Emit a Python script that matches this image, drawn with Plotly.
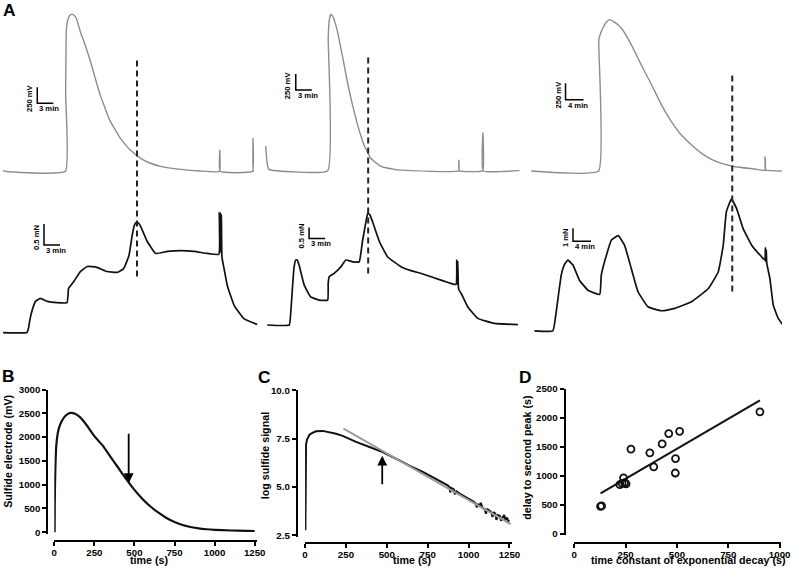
import numpy as np
import plotly.graph_objects as go

W, H = 791, 576
FONT = "Liberation Sans, Arial, sans-serif"
GRAY = "#8c8c8c"
BLACK = "#111111"

# ---------------- Panel A data (time in min; sulfide in mV; force in mN) ----------------
a1_top_t = [0, 0.4, 12.2, 12.25, 12.4, 12.75, 13.1, 13.5, 13.9, 14.25, 15.0, 16.0, 16.9, 17.8, 18.75,
            19.7, 20.6, 21.6, 22.5, 23.5, 24.4, 26.3, 28.0, 30.0, 33.8, 37.5, 41.05, 41.1, 41.15,
            47.2, 47.3, 47.35, 47.5]
a1_top_v = [110, 15, 0, 1200, 2230, 2390, 2440, 2450, 2430, 2390, 2180, 1950, 1716, 1450, 1186,
            970, 780, 640, 515, 410, 328, 203, 130, 78, 31, 5, 0, 330, 0,
            0, 515, 0, 0]

a1_bot_t = [0.3, 5.0, 5.3, 5.6, 6.1, 6.6, 7.5, 8.8, 10.6, 12.5, 12.7, 12.8, 13.75, 15.0, 16.3, 18.1,
            20.0, 21.9, 23.1, 24.1, 24.7, 25.1, 25.5, 25.9, 26.3, 27.5, 29.1, 31.3, 33.8, 36.3, 38.8,
            40.9, 41.0, 41.1, 41.2, 41.3, 41.4, 41.5, 42.0, 42.5, 43.8, 45.6, 48.1]
a1_bot_f = [0, 0, 0.1, 0.33, 0.58, 0.74, 0.81, 0.74, 0.71, 0.71, 0.9, 1.05, 1.21, 1.45, 1.57, 1.55,
            1.45, 1.43, 1.52, 1.83, 2.31, 2.55, 2.62, 2.6, 2.52, 2.17, 1.88, 1.93, 1.95, 1.93, 1.88,
            1.86, 2.85, 1.9, 2.85, 1.9, 2.8, 1.8, 1.45, 1.12, 0.64, 0.33, 0.19]

a2_top_t = [0, 0.3, 0.6, 11.6, 11.7, 11.9, 12.2, 12.5, 12.8, 13.45, 14.1, 14.7, 15.3, 15.95, 16.6,
            17.2, 18.4, 19.7, 21.6, 24.1, 27.2, 36.1, 36.15, 36.2, 40.6, 40.65, 40.7, 47.5]
a2_top_v = [380, 100, 20, 0, 2070, 2350, 2440, 2420, 2360, 2170, 1900, 1645, 1380, 1130, 910,
            715, 400, 190, 65, 20, 0, 0, 165, 0, 0, 590, 0, 0]

a2_bot_t = [0.3, 4.4, 4.7, 5.0, 5.3, 5.6, 5.9, 6.25, 7.2, 8.4, 10.0, 11.6, 11.7, 11.9, 12.8, 14.1,
            15.0, 16.3, 17.5, 18.1, 18.7, 19.1, 19.5, 20.0, 21.3, 22.8, 25.3, 27.2, 29.1, 32.8, 35.6,
            35.75, 35.85, 35.95, 36.05, 36.15, 36.6, 37.8, 39.7, 42.8, 47.2]
a2_bot_f = [0, 0, 0.6, 1.66, 2.6, 2.95, 2.95, 2.72, 1.82, 1.28, 1.13, 1.13, 1.9, 2.19, 2.34, 2.65,
            2.95, 2.87, 2.87, 3.78, 4.6, 5.07, 5.0, 4.69, 3.78, 3.10, 2.65, 2.47, 2.34, 2.04, 1.84,
            2.95, 1.85, 2.9, 1.8, 1.6, 1.43, 0.83, 0.30, 0.07, 0.02]

a3_top_t = [0, 14.95, 15.0, 15.5, 15.9, 16.7, 17.4, 18.4, 20.0, 22.2, 24.4, 26.7, 28.9, 31.1, 33.3,
            35.6, 37.8, 40.0, 42.2, 45.2, 49.6, 51.8, 51.85, 51.9, 51.95, 52.0, 52.2, 55.6]
a3_top_v = [0, 0, 1965, 2080, 2140, 2230, 2265, 2230, 2140, 1890, 1590, 1290, 990, 740, 540,
            390, 265, 175, 115, 65, 30, 10, 215, 20, 190, 15, 10, 0]

a3_bot_t = [0.73, 4.8, 5.55, 6.67, 7.4, 8.15, 9.27, 10.7, 12.6, 15.2, 15.55, 16.7, 17.8, 19.3, 20.7,
            22.2, 23.7, 25.9, 28.9, 31.85, 35.55, 39.3, 41.5, 42.6, 43.3, 44.4, 45.55, 47.0, 48.9,
            51.1, 51.85, 51.95, 52.05, 52.15, 52.25, 52.95, 53.7, 54.8, 56.3]
a3_bot_f = [0, 0, 1.46, 4.28, 5.1, 5.43, 5.05, 3.89, 3.12, 2.79, 4.28, 5.82, 6.97, 7.31, 6.58,
            4.79, 3.0, 1.85, 1.54, 1.72, 2.23, 3.25, 4.54, 6.58, 9.15, 10.12, 9.41, 7.87, 6.58,
            5.69, 5.43, 6.4, 5.3, 6.2, 5.2, 4.02, 1.97, 0.95, 0.23]

# ---------------- Panel B data ----------------
b_time = [2, 3, 5, 8, 12, 20, 30, 45, 70, 100, 130, 160, 200, 250, 300, 350, 400, 450, 500, 550,
          600, 650, 700, 750, 800, 850, 900, 950, 1000, 1100, 1200, 1250]
b_mv = [0, 600, 1100, 1500, 1800, 2050, 2200, 2330, 2450, 2510, 2490, 2420, 2260, 2020, 1830, 1590,
        1350, 1110, 890, 700, 540, 410, 300, 215, 150, 110, 80, 62, 50, 35, 28, 25]
b_ticks_x = [0, 250, 500, 750, 1000, 1250]
b_ticks_y = [0, 500, 1000, 1500, 2000, 2500, 3000]

# ---------------- Panel C data ----------------
c_time = [2, 3, 4, 6, 12, 27, 45, 67, 108, 149, 190, 230, 312, 394, 475, 557, 638, 720, 802, 850,
          870, 883, 888, 895, 910, 916, 925, 945, 965, 985, 1000, 1015, 1030, 1045, 1050, 1060,
          1070, 1075, 1085, 1100, 1106, 1115, 1128, 1140, 1146, 1155, 1165, 1170, 1180, 1192,
          1198, 1210, 1218, 1225, 1235, 1242, 1250]
c_log = [2.76, 5.0, 6.9, 7.2, 7.45, 7.7, 7.8, 7.88, 7.9, 7.84, 7.75, 7.64, 7.33, 7.07, 6.8, 6.46,
         6.1, 5.78, 5.43, 5.2, 5.1, 5.0, 4.72, 4.95, 4.88, 4.62, 4.78, 4.66, 4.57, 4.48, 4.4, 4.32,
         4.25, 4.14, 3.95, 4.1, 4.05, 4.18, 3.92, 3.85, 3.62, 3.85, 3.79, 3.68, 3.45, 3.7, 3.6,
         3.3, 3.55, 3.5, 3.25, 3.45, 3.55, 3.3, 3.42, 3.22, 3.28]
c_fit_time = [235, 1258]
c_fit_log = [8.02, 3.08]
c_ticks_x = [0, 250, 500, 750, 1000, 1250]
c_ticks_y = [2.5, 5.0, 7.5, 10.0]
c_ticktext_y = ["2.5", "5.0", "7.5", "10.0"]

# ---------------- Panel D data ----------------
d_tau = [128, 133, 222, 233, 240, 245, 252, 276, 368, 387, 428, 460, 493, 492, 513, 904]
d_delay = [475, 482, 850, 870, 965, 880, 860, 1460, 1395, 1155, 1548, 1726, 1296, 1048, 1765, 2100]
d_ticks_x = [0, 250, 500, 750, 1000]
d_ticks_y = [0, 500, 1000, 1500, 2000, 2500]

# ---------------- layout helpers: target pixel -> paper (with viewer offset/scale compensation) ----------------
SX, OX, SY, OY = 0.983, 2.8, 0.98, 7.8
FS = 1 / 0.98


def PX(p):
    return (p - OX) / SX


def PY(p):
    return (p - OY) / SY


def xd(p):
    return min(max(PX(p) / W, 0.0), 1.0)


def yd(p):
    return min(max(1 - PY(p) / H, 0.0), 1.0)


def lin_x(p0, p1, pa, va, pb, vb):
    p0 = max(p0, OX + 0.05)
    p1 = min(p1, OX + SX * W - 0.05)
    k = (vb - va) / (pb - pa)
    return dict(domain=[xd(p0), xd(p1)], range=[va + (p0 - pa) * k, va + (p1 - pa) * k])


def lin_y(ptop, pbot, pa, va, pb, vb):
    ptop = max(ptop, OY + 0.05)
    pbot = min(pbot, OY + SY * H - 0.05)
    k = (vb - va) / (pb - pa)
    return dict(domain=[yd(pbot), yd(ptop)], range=[va + (pbot - pa) * k, va + (ptop - pa) * k])


fig = go.Figure()

# Panel A traces
a_traces = [
    (a1_top_t, a1_top_v, 1, GRAY, 1.4),
    (a2_top_t, a2_top_v, 2, GRAY, 1.4),
    (a3_top_t, a3_top_v, 3, GRAY, 1.4),
    (a1_bot_t, a1_bot_f, 4, BLACK, 1.7),
    (a2_bot_t, a2_bot_f, 5, BLACK, 1.7),
    (a3_bot_t, a3_bot_f, 6, BLACK, 1.7),
]
for t, v, k, col, lw in a_traces:
    fig.add_trace(go.Scatter(x=t, y=v, mode="lines", line=dict(color=col, width=lw, shape="spline", smoothing=0.35),
                             xaxis="x" if k == 1 else f"x{k}", yaxis="y" if k == 1 else f"y{k}",
                             showlegend=False, hoverinfo="skip"))

# Panel B
fig.add_trace(go.Scatter(x=b_time, y=b_mv, mode="lines", line=dict(color=BLACK, width=2.2, shape="spline", smoothing=0.6),
                         xaxis="x7", yaxis="y7", showlegend=False))
# Panel C
fig.add_trace(go.Scatter(x=c_time, y=c_log, mode="lines", line=dict(color=BLACK, width=2),
                         xaxis="x8", yaxis="y8", showlegend=False))
fig.add_trace(go.Scatter(x=c_fit_time, y=c_fit_log, mode="lines", line=dict(color="#9a9a9a", width=2),
                         xaxis="x8", yaxis="y8", showlegend=False))
# Panel D
slope, intercept = np.polyfit(d_tau, d_delay, 1)
fit_x = np.array([min(d_tau), max(d_tau)])
fig.add_trace(go.Scatter(x=fit_x, y=slope * fit_x + intercept, mode="lines",
                         line=dict(color=BLACK, width=2), xaxis="x9", yaxis="y9", showlegend=False))
fig.add_trace(go.Scatter(x=d_tau, y=d_delay, mode="markers",
                         marker=dict(symbol="circle-open", size=7, color=BLACK, line=dict(width=1.8, color=BLACK)),
                         xaxis="x9", yaxis="y9", showlegend=False))

hidden = dict(visible=False, fixedrange=True)
col_x = [lin_x(0, 262, 0, 0, 16, 3), lin_x(262, 524, 265, 0, 281, 3), lin_x(526, 791, 530, 0, 548, 4)]
top_y = [lin_y(3, 185, 173, 0, 157, 250), lin_y(3, 185, 172.3, 0, 156.3, 250), lin_y(3, 185, 172.7, 0, 156, 250)]
bot_y = [lin_y(188, 346, 334, 0, 313, 0.5), lin_y(188, 346, 326.5, 0, 315.5, 0.5), lin_y(188, 346, 332.3, 0, 319.3, 1)]

layout = {}
for i in range(3):
    kt, kb = i + 1, i + 4
    layout["xaxis" if kt == 1 else f"xaxis{kt}"] = dict(**col_x[i], **hidden, anchor="y" if kt == 1 else f"y{kt}")
    layout["yaxis" if kt == 1 else f"yaxis{kt}"] = dict(**top_y[i], **hidden, anchor="x" if kt == 1 else f"x{kt}")
    layout[f"xaxis{kb}"] = dict(**col_x[i], **hidden, anchor=f"y{kb}")
    layout[f"yaxis{kb}"] = dict(**bot_y[i], **hidden, anchor=f"x{kb}")

tickfont = dict(family=FONT, size=9.5 * FS, color="black", weight="bold")
axstyle = dict(showline=True, linewidth=2, linecolor="black", ticks="outside", ticklen=4, tickwidth=1.5,
               tickcolor="black", showgrid=False, zeroline=False, tickfont=tickfont, fixedrange=True,
               anchor="free")

layout["xaxis7"] = dict(**lin_x(54, 256, 54, 0, 254, 1250), **axstyle, tickvals=b_ticks_x, position=yd(542))
layout["yaxis7"] = dict(**lin_y(391, 535, 533.5, 0, 391, 3000), **axstyle, tickvals=b_ticks_y, position=xd(47))
layout["xaxis8"] = dict(**lin_x(304.3, 511, 304.3, 0, 508.3, 1250), **axstyle, tickvals=c_ticks_x, position=yd(544))
layout["yaxis8"] = dict(**lin_y(391.7, 538, 536.7, 2.5, 391.7, 10), **axstyle, tickvals=c_ticks_y,
                        ticktext=c_ticktext_y, position=xd(296))
layout["xaxis9"] = dict(**lin_x(573, 779, 573, 0, 778, 1000), **axstyle, tickvals=d_ticks_x, position=yd(544))
layout["yaxis9"] = dict(**lin_y(390, 536, 535.3, 0, 390, 2500), **axstyle, tickvals=d_ticks_y, position=xd(563.3))
for k in ("xaxis7", "xaxis8", "xaxis9"):
    layout[k]["ticklabelstandoff"] = -1

# dashed alignment lines (x in each column's time axis, y in paper)
shapes = []
for xref, xt, ptop, pbot in [("x", 25.6, 60, 278), ("x2", 19.18, 58, 275), ("x3", 44.6, 77, 293)]:
    shapes.append(dict(type="line", xref=xref, yref="paper", x0=xt, x1=xt, y0=yd(pbot), y1=yd(ptop),
                       line=dict(color="#222222", width=2, dash="6px,4px")))

# scale bars
annotations = []
sfont = dict(family=FONT, size=7.5 * FS, color="black", weight="bold")
scalebars = [
    ("x", "y", 6.94, 1062, 3, 250, "250 mV", "3 min"),
    ("x4", "y4", 8.2, 2.08, 3, 0.5, "0.5 mN", "3 min"),
    ("x2", "y2", 5.63, 1259, 3, 250, "250 mV", "3 min"),
    ("x5", "y5", 8.12, 3.93, 3, 0.5, "0.5 mN", "3 min"),
    ("x3", "y3", 7.62, 1065, 4, 250, "250 mV", "4 min"),
    ("x6", "y6", 9.27, 6.89, 4, 1, "1 mN", "4 min"),
]
for xr, yr, x0, y0, dt, dv, vlab, hlab in scalebars:
    shapes.append(dict(type="path", xref=xr, yref=yr,
                       path=f"M {x0},{y0 + dv} L {x0},{y0} L {x0 + dt},{y0}",
                       line=dict(color="black", width=1.5)))
    annotations.append(dict(xref=xr, yref=yr, x=x0, y=y0 + dv / 2, text=vlab, showarrow=False, textangle=-90,
                            xanchor="right", yanchor="middle", xshift=-1, yshift=-3, font=sfont))
    annotations.append(dict(xref=xr, yref=yr, x=x0, y=y0, text=hlab, showarrow=False,
                            xanchor="left", yanchor="top", yshift=1, font=sfont))

# arrows
annotations.append(dict(xref="x7", yref="y7", axref="x7", ayref="y7", x=464, y=1030, ax=464, ay=2100,
                        showarrow=True, arrowhead=2, arrowsize=1.1, arrowwidth=1.8, arrowcolor="black", text=""))
annotations.append(dict(xref="x8", yref="y8", axref="x8", ayref="y8", x=472, y=6.62, ax=472, ay=5.06,
                        showarrow=True, arrowhead=2, arrowsize=1.1, arrowwidth=1.8, arrowcolor="black", text=""))


# texts at target pixel positions
def ptext(px, py, text, size, angle=0):
    return dict(xref="paper", yref="paper", x=xd(px), y=yd(py), text=text, showarrow=False,
                textangle=angle, xanchor="center", yanchor="middle",
                font=dict(family=FONT, size=size * FS, color="black", weight="bold"))


annotations += [
    ptext(9, 12, "A", 17), ptext(8, 377, "B", 17), ptext(264, 378, "C", 17), ptext(524, 378, "D", 17),
    ptext(7, 453, "Sulfide electrode (mV)", 10.5, -90),
    ptext(264, 457, "log sulfide signal", 10.5, -90),
    ptext(525, 459, "delay to second peak (s)", 10.5, -90),
    ptext(149, 561, "time (s)", 10.5),
    ptext(411, 561, "time (s)", 10.5),
    ptext(687, 561, "time constant of exponential decay (s)", 10.5),
]

fig.update_layout(width=W, height=H, margin=dict(l=0, r=0, t=0, b=0), paper_bgcolor="white",
                  plot_bgcolor="rgba(0,0,0,0)", showlegend=False, shapes=shapes, annotations=annotations,
                  **layout)
fig.write_html(
    "out.html", config=dict(displayModeBar=False),
    post_script=(
        "document.documentElement.style.margin='0';document.documentElement.style.padding='0';"
        "document.documentElement.style.overflow='hidden';"
        "document.body.style.margin='0';document.body.style.padding='0';document.body.style.overflow='hidden';"
        "var gd=document.getElementById('{plot_id}');gd.style.position='fixed';gd.style.left='0px';gd.style.top='0px';"
    ),
)
